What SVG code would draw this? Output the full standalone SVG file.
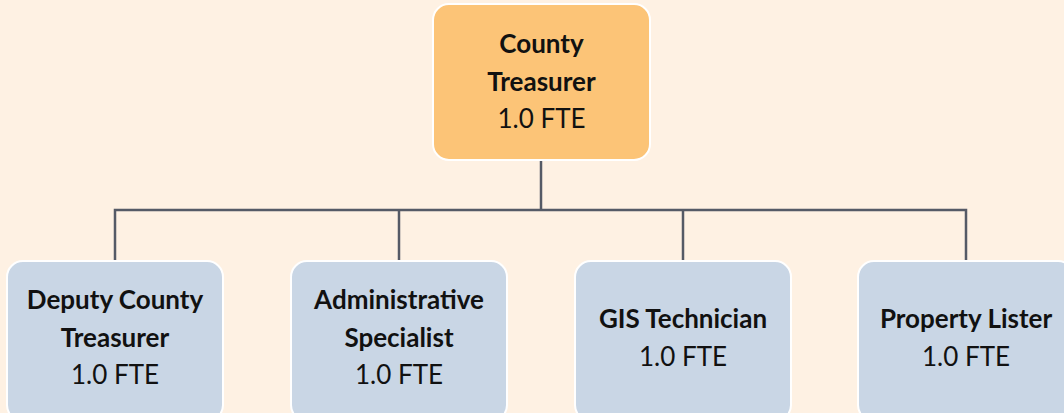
<svg xmlns="http://www.w3.org/2000/svg" width="1064" height="413" viewBox="0 0 1064 413">
<style>
.bg{fill:#fef1e3}
.top{fill:#fcc477;stroke:#ffffff;stroke-width:2}
.sub{fill:#c9d6e5;stroke:#ffffff;stroke-width:2}
.conn{fill:none;stroke:#555a66;stroke-width:2.5}
text{font-family:Lato,"Noto Sans",sans-serif;font-size:26px;fill:#111111;text-anchor:middle}
.b{font-weight:bold}
</style>
<rect class="bg" x="0" y="0" width="1064" height="413"/>
<g id="connectors">
<path class="conn" d="M541,160 V210"/>
<path class="conn" d="M115,261 V210 H966 V261"/>
<path class="conn" d="M399,210 V261"/>
<path class="conn" d="M683,210 V261"/>
</g>
<g id="county-treasurer">
<rect class="top" x="433" y="4" width="217" height="156" rx="16"/>
<text x="541.5" y="53" class="b">County</text>
<text x="541.5" y="91" class="b">Treasurer</text>
<text x="541.5" y="128">1.0 FTE</text>
</g>
<g id="deputy-county-treasurer">
<rect class="sub" x="7" y="261" width="216" height="160" rx="16"/>
<text x="115" y="309" class="b">Deputy County</text>
<text x="115" y="347" class="b">Treasurer</text>
<text x="115" y="384">1.0 FTE</text>
</g>
<g id="administrative-specialist">
<rect class="sub" x="291" y="261" width="216" height="160" rx="16"/>
<text x="399" y="309" class="b">Administrative</text>
<text x="399" y="347" class="b">Specialist</text>
<text x="399" y="384">1.0 FTE</text>
</g>
<g id="gis-technician">
<rect class="sub" x="575" y="261" width="216" height="160" rx="16"/>
<text x="683" y="328" class="b">GIS Technician</text>
<text x="683" y="366">1.0 FTE</text>
</g>
<g id="property-lister">
<rect class="sub" x="858" y="261" width="216" height="160" rx="16"/>
<text x="966" y="328" class="b">Property Lister</text>
<text x="966" y="366">1.0 FTE</text>
</g>
</svg>
